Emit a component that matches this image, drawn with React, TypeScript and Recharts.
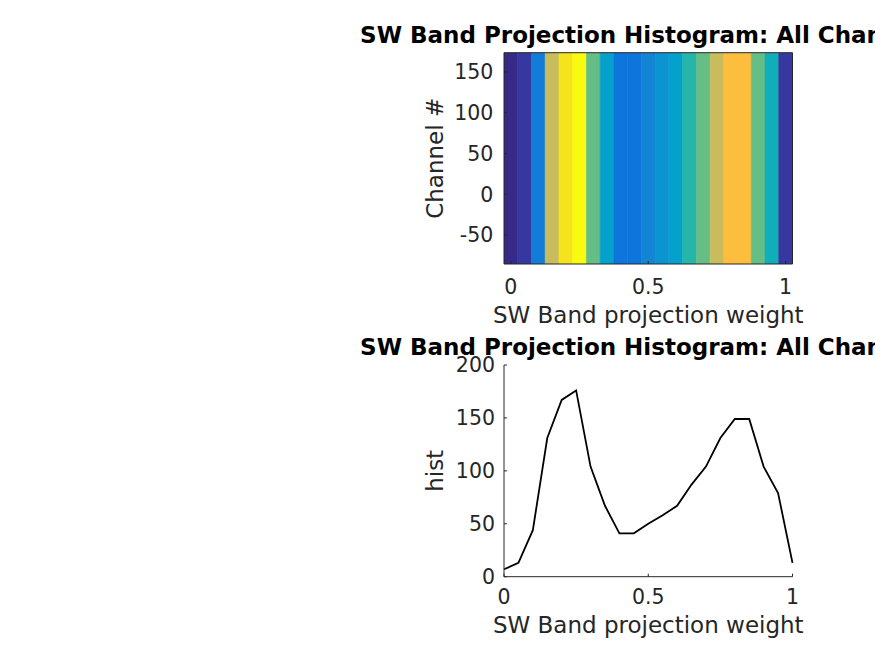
import React from 'react';
import { ComposedChart, LineChart, Line, XAxis, YAxis, ReferenceArea, Label } from 'recharts';

// ---- data ----
const weights = [0, 0.05, 0.1, 0.15, 0.2, 0.25, 0.3, 0.35, 0.4, 0.45, 0.5, 0.55, 0.6, 0.65, 0.7, 0.75, 0.8, 0.85, 0.9, 0.95, 1];
const histCounts = [7, 13, 44, 131, 167, 176, 104, 67, 41, 41, 50, 58, 67, 87, 104, 131, 149, 149, 104, 79, 13];
const weightTicks = [0, 0.5, 1];
const channelTicks = [-50, 0, 50, 100, 150];
const channelLimits = [-85.5, 173.5];
const histTicks = [0, 50, 100, 150, 200];
const histLimits = [0, 200];
const titleText = 'SW Band Projection Histogram: All Channels';
const xLabelText = 'SW Band projection weight';
const topYLabel = 'Channel #';
const bottomYLabel = 'hist';

// ---- parula colormap (64) ----
const PARULA: number[][] = [
  [0.2081, 0.1663, 0.5292], [0.2116, 0.1898, 0.5777], [0.2123, 0.2138, 0.627], [0.2081, 0.2386, 0.6771],
  [0.1959, 0.2645, 0.7279], [0.1707, 0.2919, 0.7792], [0.1253, 0.3242, 0.8303], [0.0591, 0.3598, 0.8683],
  [0.0117, 0.3875, 0.882], [0.006, 0.4086, 0.8828], [0.0165, 0.4266, 0.8786], [0.0329, 0.443, 0.872],
  [0.0498, 0.4586, 0.8641], [0.0629, 0.4737, 0.8554], [0.0723, 0.4887, 0.8467], [0.0779, 0.504, 0.8384],
  [0.0793, 0.52, 0.8312], [0.0749, 0.5375, 0.8263], [0.0641, 0.557, 0.824], [0.0488, 0.5772, 0.8228],
  [0.0343, 0.5966, 0.8199], [0.0265, 0.6137, 0.8135], [0.0239, 0.6287, 0.8038], [0.0231, 0.6418, 0.7913],
  [0.0228, 0.6535, 0.7768], [0.0267, 0.6642, 0.7607], [0.0384, 0.6743, 0.7436], [0.059, 0.6838, 0.7254],
  [0.0843, 0.6928, 0.7062], [0.1133, 0.7015, 0.6859], [0.1453, 0.7098, 0.6646], [0.1801, 0.7177, 0.6424],
  [0.2178, 0.725, 0.6193], [0.2586, 0.7317, 0.5954], [0.3022, 0.7376, 0.5712], [0.3482, 0.7424, 0.5473],
  [0.3953, 0.7459, 0.5244], [0.442, 0.7481, 0.5033], [0.4871, 0.7491, 0.484], [0.53, 0.7491, 0.4661],
  [0.5709, 0.7485, 0.4494], [0.6099, 0.7473, 0.4337], [0.6473, 0.7456, 0.4188], [0.6834, 0.7435, 0.4044],
  [0.7184, 0.7411, 0.3905], [0.7525, 0.7384, 0.3768], [0.7858, 0.7356, 0.3633], [0.8185, 0.7327, 0.3498],
  [0.8507, 0.7299, 0.336], [0.8824, 0.7274, 0.3217], [0.9139, 0.7258, 0.3063], [0.945, 0.7261, 0.2886],
  [0.9739, 0.7314, 0.2666], [0.9938, 0.7455, 0.2403], [0.999, 0.7653, 0.2164], [0.9955, 0.7861, 0.1967],
  [0.988, 0.8066, 0.1794], [0.9789, 0.8271, 0.1633], [0.9697, 0.8481, 0.1475], [0.9626, 0.8705, 0.1309],
  [0.9589, 0.8949, 0.1132], [0.9598, 0.9218, 0.0948], [0.9661, 0.9514, 0.0755], [0.9763, 0.9831, 0.0538],
];

function parula(v: number, lo: number, hi: number): string {
  const m = PARULA.length;
  let i = Math.floor(((v - lo) / (hi - lo)) * m);
  if (i < 0) i = 0;
  if (i > m - 1) i = m - 1;
  const c = PARULA[i];
  return `rgb(${Math.round(c[0] * 255)},${Math.round(c[1] * 255)},${Math.round(c[2] * 255)})`;
}

const lo = Math.min(...histCounts);
const hi = Math.max(...histCounts);
const halfStep = (weights[1] - weights[0]) / 2;
const rows = weights.map((w, i) => ({ w, h: histCounts[i] }));
const weightLimits = [weights[0] - halfStep, weights[weights.length - 1] + halfStep];

// ---- styles ----
const FONT = 'DejaVu Sans';
const AX = '#262626';
const tickStyle = { fill: AX, fontSize: 20.5, fontFamily: FONT };

const xLabel = (dy: number) => (p: any) => {
  const vb = p.viewBox || {};
  return (
    <text x={vb.x + vb.width / 2} y={vb.y + dy} textAnchor="middle" fill={AX} fontSize={23} fontFamily={FONT}>
      {xLabelText}
    </text>
  );
};

const yLabel = (text: string, dx: number) => (p: any) => {
  const vb = p.viewBox || {};
  const cx = vb.x + dx;
  const cy = vb.y + vb.height / 2;
  return (
    <text transform={`translate(${cx},${cy}) rotate(-90)`} textAnchor="middle" fill={AX} fontSize={23} fontFamily={FONT}>
      {text}
    </text>
  );
};

const Title = ({ y }: { y: number }) => (
  <svg width={875} height={80} style={{ position: 'absolute', left: 0, top: 0, overflow: 'visible', pointerEvents: 'none' }}>
    <text x={648.3} y={y} textAnchor="middle" fill="#000" fontSize={23} fontWeight="bold" fontFamily={FONT}>
      {titleText}
    </text>
  </svg>
);

export default function App() {
  return (
    <div style={{ position: 'absolute', left: 0, top: 0, width: 875, height: 656, overflow: 'hidden', background: '#fff' }}>
      {/* top: image panel */}
      <div style={{ position: 'absolute', left: 0, top: 0, width: 875, height: 340 }}>
        <ComposedChart width={875} height={340} data={rows} margin={{ top: 51.7, right: 81.5, bottom: 46, left: 444 }}>
          <XAxis
            xAxisId="b"
            type="number"
            dataKey="w"
            domain={weightLimits}
            ticks={weightTicks}
            allowDataOverflow
            height={30}
            stroke={AX}
            tickSize={-3}
            tickMargin={18.7}
            tick={tickStyle}
          >
            <Label content={xLabel(58.7)} />
          </XAxis>
          <XAxis
            xAxisId="t"
            orientation="top"
            type="number"
            dataKey="w"
            domain={weightLimits}
            ticks={weightTicks}
            allowDataOverflow
            height={1}
            stroke={AX}
            tickSize={-3}
            tick={false}
          />
          <YAxis
            yAxisId="l"
            type="number"
            domain={channelLimits}
            ticks={channelTicks}
            allowDataOverflow
            width={60}
            stroke={AX}
            tickSize={-3}
            tickMargin={13.7}
            tick={tickStyle}
          >
            <Label content={yLabel(topYLabel, -1)} />
          </YAxis>
          <YAxis
            yAxisId="r"
            orientation="right"
            type="number"
            domain={channelLimits}
            ticks={channelTicks}
            allowDataOverflow
            width={1}
            stroke={AX}
            tickSize={-3}
            tick={false}
          />
          {rows.map((r) => {
            const col = parula(r.h, lo, hi);
            return (
              <ReferenceArea
                key={r.w}
                xAxisId="b"
                yAxisId="l"
                x1={r.w - halfStep}
                x2={r.w + halfStep}
                y1={channelLimits[0]}
                y2={channelLimits[1]}
                fill={col}
                fillOpacity={1}
                stroke={col}
                strokeWidth={0.6}
                ifOverflow="hidden"
              />
            );
          })}
        </ComposedChart>
        <Title y={43.3} />
      </div>

      {/* bottom: line panel */}
      <div style={{ position: 'absolute', left: 0, top: 330, width: 875, height: 326 }}>
        <LineChart width={875} height={326} data={rows} margin={{ top: 35, right: 82.5, bottom: 49.3, left: 444 }}>
          <XAxis
            type="number"
            dataKey="w"
            domain={[weights[0], weights[weights.length - 1]]}
            ticks={weightTicks}
            height={30}
            stroke={AX}
            tickSize={-3}
            tickMargin={16}
            tick={tickStyle}
          >
            <Label content={xLabel(56)} />
          </XAxis>
          <YAxis
            type="number"
            domain={histLimits}
            ticks={histTicks}
            width={60}
            stroke={AX}
            tickSize={-3}
            tickMargin={12}
            tick={tickStyle}
          >
            <Label content={yLabel(bottomYLabel, -1)} />
          </YAxis>
          <Line type="linear" dataKey="h" stroke="#000" strokeWidth={1.8} dot={false} isAnimationActive={false} />
        </LineChart>
        <Title y={25} />
      </div>
    </div>
  );
}
